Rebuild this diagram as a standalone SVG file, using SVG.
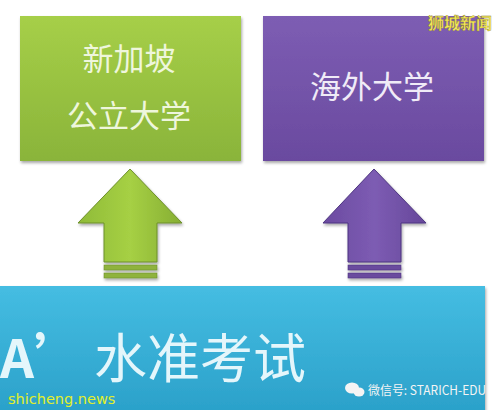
<svg xmlns="http://www.w3.org/2000/svg" width="504" height="410" viewBox="0 0 504 410">
<defs>
<linearGradient id="gG" x1="0" y1="0" x2="0" y2="1"><stop offset="0" stop-color="#a6cf48"/><stop offset="1" stop-color="#8ab43a"/></linearGradient>
<linearGradient id="gP" x1="0" y1="0" x2="0" y2="1"><stop offset="0" stop-color="#7d5db3"/><stop offset="1" stop-color="#6a4a9f"/></linearGradient>
<linearGradient id="gB" x1="0" y1="0" x2="0" y2="1"><stop offset="0" stop-color="#45bde2"/><stop offset="1" stop-color="#2aa0c9"/></linearGradient>
<linearGradient id="aG" x1="0" y1="0" x2="1" y2="0"><stop offset="0" stop-color="#8fbb38"/><stop offset="0.5" stop-color="#a6d044"/><stop offset="1" stop-color="#86ae33"/></linearGradient>
<linearGradient id="aP" x1="0" y1="0" x2="1" y2="0"><stop offset="0" stop-color="#6b4aa0"/><stop offset="0.5" stop-color="#7d5cb3"/><stop offset="1" stop-color="#66479a"/></linearGradient>
<filter id="sh" x="-10%" y="-10%" width="130%" height="130%"><feGaussianBlur in="SourceAlpha" stdDeviation="1.5"/><feOffset dx="1" dy="1.5"/><feComponentTransfer><feFuncA type="linear" slope="0.35"/></feComponentTransfer><feMerge><feMergeNode/><feMergeNode in="SourceGraphic"/></feMerge></filter>
</defs>
<style>
.cjk{font-family:"Noto Sans CJK SC","Noto Sans",sans-serif;}
.lbl{fill:#eef6dc;font-size:31px;text-anchor:middle;}
</style>
<rect width="504" height="410" fill="#ffffff"/>
<g id="connectors">
<g id="arrow-green" filter="url(#sh)">
<path d="M130,169 L182,223 L157,223 L157,262 L104,262 L104,223 L78,223 Z" fill="url(#aG)" stroke="#6d8f2a" stroke-width="1"/>
<rect x="104" y="265" width="53" height="5" fill="#8fb33e" stroke="#6d8f2a" stroke-width="0.6"/>
<rect x="104" y="273" width="53" height="5" fill="#8fb33e" stroke="#6d8f2a" stroke-width="0.6"/>
</g>
<g id="arrow-purple" filter="url(#sh)">
<path d="M374,169 L426,223 L401,223 L401,262 L348,262 L348,223 L323,223 Z" fill="url(#aP)" stroke="#4d3580" stroke-width="1"/>
<rect x="348" y="265" width="53" height="5" fill="#6a4b9e" stroke="#4d3580" stroke-width="0.6"/>
<rect x="348" y="273" width="53" height="5" fill="#6a4b9e" stroke="#4d3580" stroke-width="0.6"/>
</g>
</g>
<g id="node-sg">
<rect x="20" y="16" width="221" height="145" fill="url(#gG)" filter="url(#sh)"/>
<text class="cjk lbl" x="129" y="70">新加坡</text>
<text class="cjk lbl" x="129" y="127">公立大学</text>
</g>
<g id="node-overseas">
<rect x="263" y="16" width="221" height="145" fill="url(#gP)" filter="url(#sh)"/>
<text class="cjk lbl" x="372" y="98" style="fill:#f0ebf7">海外大学</text>
</g>
<g id="node-alevel">
<rect x="-5" y="286" width="490" height="130" fill="url(#gB)" filter="url(#sh)"/>
<text class="cjk" x="0" y="378" font-size="53" fill="#e4f6fb"><tspan font-weight="bold">A’</tspan><tspan x="94">水准考试</tspan></text>
</g>
<text class="cjk" x="492" y="29" font-size="16" font-weight="bold" fill="#f4ea5a" stroke="#8a7a20" stroke-width="0.3" text-anchor="end">狮城新闻</text>
<text x="8" y="404" font-family="'DejaVu Sans',sans-serif" font-size="14.5" fill="#e2ef2a">shicheng.news</text>
<g id="wechat-icon" fill="#f4f4f4">
<ellipse cx="352" cy="388" rx="7" ry="5.5"/>
<ellipse cx="359" cy="392" rx="5.5" ry="4.5"/>
</g>
<text class="cjk" x="368" y="395" font-size="12.5" fill="#f4f4f4" textLength="118" lengthAdjust="spacingAndGlyphs">微信号: STARICH-EDU</text>
</svg>
